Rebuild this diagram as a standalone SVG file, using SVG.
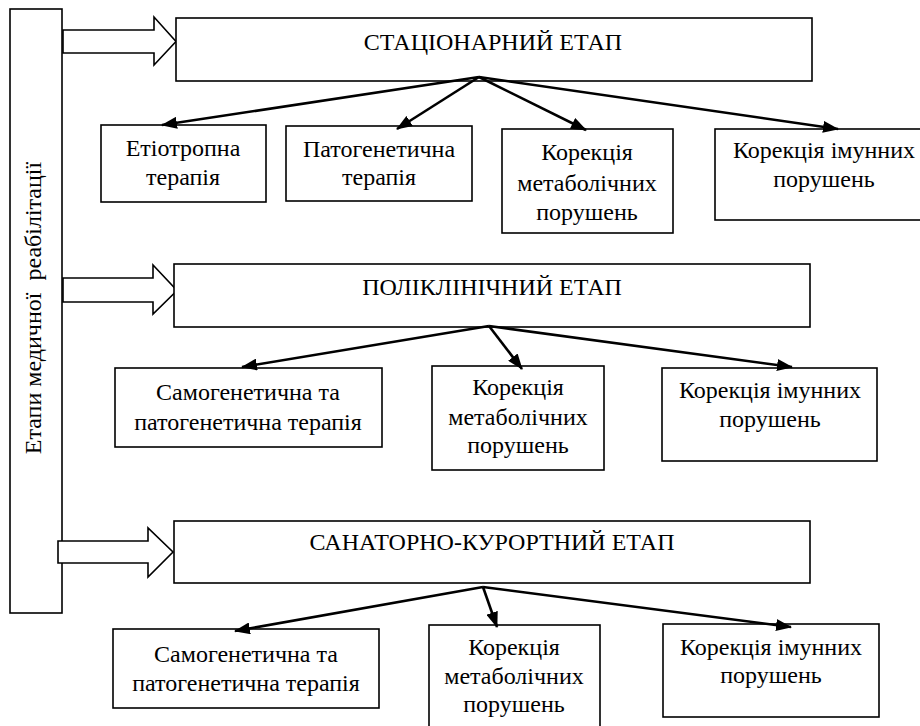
<svg xmlns="http://www.w3.org/2000/svg" width="920" height="726" viewBox="0 0 920 726">
<defs>
<marker id="ah" markerUnits="userSpaceOnUse" markerWidth="16" markerHeight="12" refX="15" refY="6" orient="auto">
<path d="M0,0 L16,6 L0,12 Z" fill="#000"/>
</marker>
</defs>
<style>
.box{fill:#fff;stroke:#000;stroke-width:1.6}
.blk{fill:#fff;stroke:#000;stroke-width:1.6;stroke-linejoin:miter}
text{font-family:'Liberation Serif',serif !important;font-size:24px;fill:#000;text-anchor:middle}
.c{stroke:#000;stroke-width:2.6;fill:none;marker-end:url(#ah)}
</style>
<rect width="920" height="726" fill="#fff"/>

<g id="side">
<rect class="box" x="10" y="9" width="52" height="604"/>
<text style="font-family:'Liberation Serif',serif" transform="translate(41,308) rotate(-90)" xml:space="preserve">Етапи медичної  реабілітації</text>
</g>

<g id="arrows-block">
<path class="blk" d="M63,30 H154 V17 L176,41.5 L154,65 V53 H63 Z"/>
<path class="blk" d="M63,278 H153 V265 L177,290.5 L153,314 V302 H63 Z"/>
<path class="blk" d="M58,541 H148 V528 L173,552 L148,577 V563 H58 Z"/>
</g>

<g id="stage1">
<rect class="box" x="176" y="18" width="636" height="63"/>
<text style="font-family:'Liberation Serif',serif" x="493" y="50">СТАЦІОНАРНИЙ ЕТАП</text>
</g>
<g id="s1a">
<rect class="box" x="101" y="125" width="165" height="77"/>
<text style="font-family:'Liberation Serif',serif" x="183" y="156">Етіотропна</text>
<text style="font-family:'Liberation Serif',serif" x="183" y="185">терапія</text>
</g>
<g id="s1b">
<rect class="box" x="286" y="126" width="186" height="75"/>
<text style="font-family:'Liberation Serif',serif" x="379" y="157">Патогенетична</text>
<text style="font-family:'Liberation Serif',serif" x="379" y="185">терапія</text>
</g>
<g id="s1c">
<rect class="box" x="502" y="129" width="171" height="104"/>
<text style="font-family:'Liberation Serif',serif" x="587" y="160">Корекція</text>
<text style="font-family:'Liberation Serif',serif" x="587" y="191">метаболічних</text>
<text style="font-family:'Liberation Serif',serif" x="587" y="220">порушень</text>
</g>
<g id="s1d">
<rect class="box" x="715" y="129" width="215" height="91"/>
<text style="font-family:'Liberation Serif',serif" x="824" y="158">Корекція імунних</text>
<text style="font-family:'Liberation Serif',serif" x="824" y="187">порушень</text>
</g>

<g id="stage2">
<rect class="box" x="174" y="264" width="636" height="63"/>
<text style="font-family:'Liberation Serif',serif" x="492" y="295">ПОЛІКЛІНІЧНИЙ ЕТАП</text>
</g>
<g id="s2a">
<rect class="box" x="115" y="368" width="267" height="79"/>
<text style="font-family:'Liberation Serif',serif" x="248" y="400">Самогенетична та</text>
<text style="font-family:'Liberation Serif',serif" x="248" y="430">патогенетична терапія</text>
</g>
<g id="s2b">
<rect class="box" x="432" y="366" width="172" height="104"/>
<text style="font-family:'Liberation Serif',serif" x="518" y="395">Корекція</text>
<text style="font-family:'Liberation Serif',serif" x="518" y="425">метаболічних</text>
<text style="font-family:'Liberation Serif',serif" x="518" y="453">порушень</text>
</g>
<g id="s2c">
<rect class="box" x="662" y="368" width="215" height="93"/>
<text style="font-family:'Liberation Serif',serif" x="770" y="398">Корекція імунних</text>
<text style="font-family:'Liberation Serif',serif" x="770" y="427">порушень</text>
</g>

<g id="stage3">
<rect class="box" x="174" y="521" width="636" height="62"/>
<text style="font-family:'Liberation Serif',serif" x="492" y="550">САНАТОРНО-КУРОРТНИЙ ЕТАП</text>
</g>
<g id="s3a">
<rect class="box" x="113" y="629" width="266" height="79"/>
<text style="font-family:'Liberation Serif',serif" x="246" y="662">Самогенетична та</text>
<text style="font-family:'Liberation Serif',serif" x="246" y="691">патогенетична терапія</text>
</g>
<g id="s3b">
<rect class="box" x="429" y="625" width="171" height="110"/>
<text style="font-family:'Liberation Serif',serif" x="514" y="655">Корекція</text>
<text style="font-family:'Liberation Serif',serif" x="514" y="684">метаболічних</text>
<text style="font-family:'Liberation Serif',serif" x="514" y="712">порушень</text>
</g>
<g id="s3c">
<rect class="box" x="663" y="624" width="216" height="93"/>
<text style="font-family:'Liberation Serif',serif" x="771" y="655">Корекція імунних</text>
<text style="font-family:'Liberation Serif',serif" x="771" y="683">порушень</text>
</g>

<g id="connectors">
<line class="c" x1="479" y1="77" x2="162" y2="125"/>
<line class="c" x1="479" y1="77" x2="397" y2="129"/>
<line class="c" x1="479" y1="77" x2="586" y2="130"/>
<line class="c" x1="479" y1="77" x2="838" y2="129"/>
<line class="c" x1="489" y1="326" x2="242" y2="367"/>
<line class="c" x1="489" y1="326" x2="522" y2="369"/>
<line class="c" x1="489" y1="326" x2="792" y2="367"/>
<line class="c" x1="483" y1="587" x2="235" y2="631"/>
<line class="c" x1="483" y1="587" x2="497" y2="627"/>
<line class="c" x1="483" y1="587" x2="791" y2="627"/>
</g>
</svg>
